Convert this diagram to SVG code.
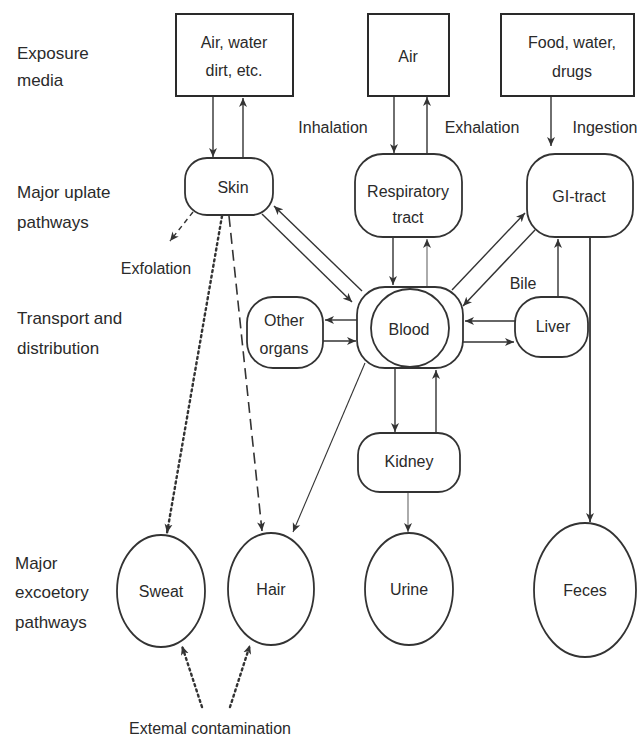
<svg xmlns="http://www.w3.org/2000/svg" width="637" height="737" viewBox="0 0 637 737">
<style>
  .bg{fill:#ffffff}
  .box{fill:none;stroke:#2a2a2a;stroke-width:2}
  .node{fill:none;stroke:#333;stroke-width:1.8}
  .c{fill:none;stroke:#333;stroke-width:1.4}
  .faint{stroke:#888}
  .dot{stroke-dasharray:2 3.5;stroke-width:2.4;stroke-linecap:round}
  .dash{stroke-dasharray:11 6;stroke-width:1.6}
  .sdash{stroke-dasharray:5 4}
  text{font-family:"Liberation Sans",Arial,sans-serif;fill:#2a2a2a;font-size:16px;text-anchor:middle}
  .lab{text-anchor:start;font-size:17px}
</style>
<defs>
  <marker id="ah" markerUnits="userSpaceOnUse" markerWidth="10" markerHeight="9" refX="9" refY="4.5" orient="auto">
    <path d="M0,0.5 L9,4.5 L0,8.5 L2.5,4.5 z" fill="#333"/>
  </marker>
</defs>
<rect class="bg" x="0" y="0" width="637" height="737"/>

<g id="row-labels">
  <text class="lab" x="17" y="59">Exposure</text>
  <text class="lab" x="17" y="86">media</text>
  <text class="lab" x="17" y="198">Major uplate</text>
  <text class="lab" x="17" y="228">pathways</text>
  <text class="lab" x="17" y="324">Transport and</text>
  <text class="lab" x="17" y="354">distribution</text>
  <text class="lab" x="15" y="569">Major</text>
  <text class="lab" x="15" y="598">excoetory</text>
  <text class="lab" x="15" y="628">pathways</text>
</g>

<g id="connectors">
  <line class="c" x1="213" y1="97" x2="213" y2="157" marker-end="url(#ah)"/>
  <line class="c" x1="243" y1="158" x2="243" y2="98" marker-end="url(#ah)"/>
  <line class="c" x1="394" y1="96" x2="394" y2="153" marker-end="url(#ah)"/>
  <line class="c" x1="427" y1="154" x2="427" y2="97" marker-end="url(#ah)"/>
  <line class="c" x1="551" y1="96" x2="551" y2="146" marker-end="url(#ah)"/>
  <line class="c sdash" x1="193" y1="212" x2="170" y2="241" marker-end="url(#ah)"/>
  <line class="c" x1="262" y1="214" x2="352" y2="302" marker-end="url(#ah)"/>
  <line class="c" x1="362" y1="291" x2="274" y2="206" marker-end="url(#ah)"/>
  <line class="c" x1="393" y1="237" x2="393" y2="285" marker-end="url(#ah)"/>
  <line class="c faint" x1="427" y1="288" x2="427" y2="239" marker-end="url(#ah)"/>
  <line class="c" x1="452" y1="290" x2="525" y2="213" marker-end="url(#ah)"/>
  <line class="c" x1="535" y1="230" x2="463" y2="306" marker-end="url(#ah)"/>
  <line class="c" x1="357" y1="320" x2="325" y2="320" marker-end="url(#ah)"/>
  <line class="c" x1="323" y1="341" x2="356" y2="341" marker-end="url(#ah)"/>
  <line class="c" x1="515" y1="321" x2="465" y2="321" marker-end="url(#ah)"/>
  <line class="c" x1="463" y1="342" x2="514" y2="342" marker-end="url(#ah)"/>
  <line class="c" x1="558" y1="297" x2="558" y2="239" marker-end="url(#ah)"/>
  <line class="c" x1="590" y1="238" x2="590" y2="522" marker-end="url(#ah)" style="stroke-width:1.8"/>
  <line class="c" x1="395" y1="368" x2="395" y2="432" marker-end="url(#ah)"/>
  <line class="c" x1="436" y1="433" x2="436" y2="370" marker-end="url(#ah)"/>
  <line class="c faint" x1="408" y1="492" x2="408" y2="532" marker-end="url(#ah)"/>
  <line class="c dot" x1="222" y1="216" x2="167" y2="533" marker-end="url(#ah)"/>
  <line class="c dash" x1="229" y1="216" x2="262" y2="531" marker-end="url(#ah)"/>
  <line class="c" x1="365" y1="363" x2="293" y2="532" marker-end="url(#ah)" style="stroke-width:1.1"/>
  <line class="c dot" x1="202" y1="707" x2="182" y2="646" marker-end="url(#ah)"/>
  <line class="c dot" x1="230" y1="707" x2="250" y2="645" marker-end="url(#ah)"/>
</g>

<g id="box-air-water">
  <rect class="box" x="176" y="14" width="117" height="82"/>
  <text x="234" y="48">Air, water</text>
  <text x="234" y="76">dirt, etc.</text>
</g>
<g id="box-air">
  <rect class="box" x="368" y="14" width="81" height="82"/>
  <text x="408" y="62">Air</text>
</g>
<g id="box-food">
  <rect class="box" x="501" y="14" width="133" height="82"/>
  <text x="572" y="48">Food, water,</text>
  <text x="572" y="77">drugs</text>
</g>

<g id="edge-labels">
  <text x="333" y="133">Inhalation</text>
  <text x="482" y="133">Exhalation</text>
  <text x="605" y="133">Ingestion</text>
  <text x="156" y="274">Exfolation</text>
  <text x="523" y="289">Bile</text>
</g>

<g id="skin">
  <rect class="node" x="185" y="158" width="88" height="57" rx="22"/>
  <text x="233" y="193">Skin</text>
</g>
<g id="respiratory-tract">
  <rect class="node" x="355" y="154" width="107" height="83" rx="28"/>
  <text x="408" y="197">Respiratory</text>
  <text x="408" y="223">tract</text>
</g>
<g id="gi-tract">
  <rect class="node" x="527" y="154" width="106" height="83" rx="28"/>
  <text x="579" y="202">GI-tract</text>
</g>
<g id="other-organs">
  <rect class="node" x="247" y="297" width="76" height="71" rx="26"/>
  <text x="284" y="326">Other</text>
  <text x="284" y="354">organs</text>
</g>
<g id="blood">
  <rect class="node" x="357" y="287" width="106" height="81" rx="28"/>
  <circle class="node" cx="410" cy="328" r="39"/>
  <text x="409" y="335">Blood</text>
</g>
<g id="liver">
  <rect class="node" x="515" y="297" width="73" height="60" rx="26"/>
  <text x="553" y="332">Liver</text>
</g>
<g id="kidney">
  <rect class="node" x="358" y="433" width="102" height="59" rx="22"/>
  <text x="409" y="467">Kidney</text>
</g>
<g id="sweat">
  <ellipse class="node" cx="161" cy="591" rx="44" ry="56"/>
  <text x="161" y="597">Sweat</text>
</g>
<g id="hair">
  <ellipse class="node" cx="271" cy="589" rx="43" ry="56"/>
  <text x="271" y="595">Hair</text>
</g>
<g id="urine">
  <ellipse class="node" cx="409" cy="589" rx="44" ry="56"/>
  <text x="409" y="595">Urine</text>
</g>
<g id="feces">
  <ellipse class="node" cx="585" cy="590" rx="51" ry="67"/>
  <text x="585" y="596">Feces</text>
</g>
<g id="external">
  <text x="210" y="734">Extemal contamination</text>
</g>
</svg>
